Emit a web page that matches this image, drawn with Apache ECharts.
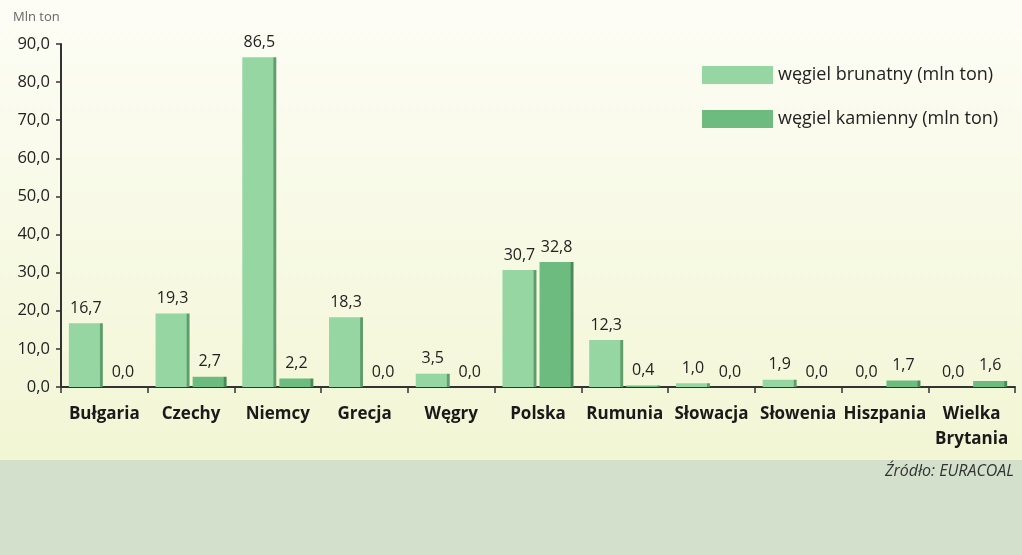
<!DOCTYPE html>
<html>
<head>
<meta charset="utf-8">
<script src="https://cdn.jsdelivr.net/npm/echarts@6/dist/echarts.min.js"></script>
<style>
  html, body { margin: 0; padding: 0; }
  #chart { width: 1022px; height: 555px; }
</style>
</head>
<body>
<div id="chart"></div>
<script>
// kraje
var countries = ['Bułgaria', 'Czechy', 'Niemcy', 'Grecja', 'Węgry', 'Polska',
  'Rumunia', 'Słowacja', 'Słowenia', 'Hiszpania', 'Wielka\nBrytania'];
// mln ton
var brownCoal = [16.7, 19.3, 86.5, 18.3, 3.5, 30.7, 12.3, 1.0, 1.9, 0.0, 0.0];
var hardCoal = [0.0, 2.7, 2.2, 0.0, 0.0, 32.8, 0.4, 0.0, 0.0, 1.7, 1.6];
var yTicks = [0, 10, 20, 30, 40, 50, 60, 70, 80, 90];

var font = '"Open Sans", "Noto Sans", sans-serif';
var lightGreen = '#95d6a2';
var darkGreen = '#6dbb7f';

function barColor(base, edge) {
  return new echarts.graphic.LinearGradient(0, 0, 1, 0, [
    { offset: 0, color: base },
    { offset: 0.9, color: base },
    { offset: 0.93, color: edge },
    { offset: 1, color: edge }
  ]);
}

function pl(v) {
  return v.toFixed(1).replace('.', ',');
}

var myChart = echarts.init(document.getElementById('chart'));

var option = {
  backgroundColor: 'transparent',
  textStyle: { fontFamily: font },
  graphic: [
    {
      type: 'rect', z: -10, silent: true,
      shape: { x: 0, y: 0, width: 1022, height: 460 },
      style: {
        fill: new echarts.graphic.LinearGradient(0, 0, 0, 1, [
          { offset: 0, color: '#fdfdf6' },
          { offset: 1, color: '#f2f6d4' }
        ])
      }
    },
    {
      type: 'rect', z: -10, silent: true,
      shape: { x: 0, y: 460, width: 1022, height: 95 },
      style: { fill: '#d3e0cb' }
    },
    {
      type: 'text', left: 13, top: 11,
      style: { text: 'Mln ton', fill: '#666', font: '13px ' + font }
    },
    {
      type: 'text', right: 8, top: 463,
      style: { text: 'Źródło: EURACOAL', fill: '#333', font: 'italic 16px ' + font }
    }
  ],
  legend: {
    orient: 'vertical',
    left: 697,
    top: 61,
    itemWidth: 71,
    itemHeight: 18,
    itemGap: 26,
    icon: 'rect',
    textStyle: { fontSize: 18, color: '#222', fontFamily: font },
    data: [
      { name: 'węgiel brunatny (mln ton)', itemStyle: { color: lightGreen } },
      { name: 'węgiel kamienny (mln ton)', itemStyle: { color: darkGreen } }
    ]
  },
  grid: { left: 61, right: 7, top: 44, bottom: 168, containLabel: false },
  xAxis: {
    type: 'category',
    data: countries,
    axisLine: { lineStyle: { color: '#333', width: 2 } },
    axisTick: { show: true, length: 6, lineStyle: { color: '#333', width: 1.5 } },
    axisLabel: {
      interval: 0, margin: 15, color: '#1a1a1a', fontSize: 17, fontWeight: 'bold',
      fontFamily: font, lineHeight: 25, verticalAlign: 'top'
    }
  },
  yAxis: {
    type: 'value',
    min: yTicks[0],
    max: yTicks[yTicks.length - 1],
    interval: 10,
    axisLine: { show: true, lineStyle: { color: '#333', width: 2 } },
    axisTick: { show: true, length: 5, lineStyle: { color: '#333', width: 1.5 } },
    splitLine: { show: false },
    axisLabel: {
      color: '#222', fontSize: 16.5, margin: 11, fontFamily: font,
      formatter: function (v) { return pl(v); }
    }
  },
  series: [
    {
      name: 'węgiel brunatny (mln ton)',
      type: 'bar',
      data: brownCoal,
      barWidth: 34,
      barGap: '9%',
      itemStyle: { color: barColor(lightGreen, '#5f9d6c') },
      label: {
        show: true, position: 'top', distance: 7, color: '#222', fontSize: 16,
        formatter: function (p) { return pl(p.value); }
      }
    },
    {
      name: 'węgiel kamienny (mln ton)',
      type: 'bar',
      data: hardCoal,
      barWidth: 34,
      itemStyle: { color: barColor(darkGreen, '#4a8a5a') },
      label: {
        show: true, position: 'top', distance: 7, color: '#222', fontSize: 16,
        formatter: function (p) { return pl(p.value); }
      }
    }
  ]
};

myChart.setOption(option);
</script>
</body>
</html>
